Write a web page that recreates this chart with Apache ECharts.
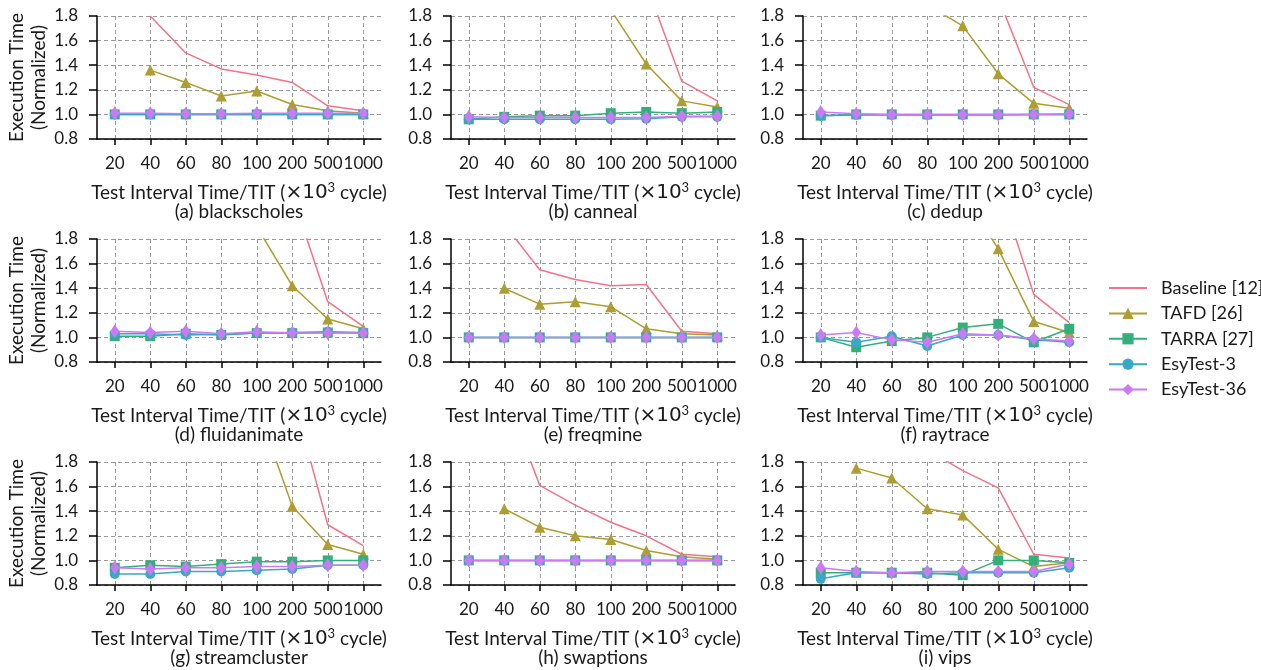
<!DOCTYPE html>
<html><head><meta charset="utf-8">
<script src="https://cdn.jsdelivr.net/npm/echarts@6/dist/echarts.min.js"></script>
<style>html,body{margin:0;padding:0;background:#fff}#c{width:1261px;height:670px}</style>
</head><body><div id="c"></div>
<script>
const categories = ['20','40','60','80','100','200','500','1000'];
const panelTitles = ['(a) blackscholes','(b) canneal','(c) dedup','(d) fluidanimate','(e) freqmine','(f) raytrace','(g) streamcluster','(h) swaptions','(i) vips'];
const seriesNames = ['Baseline [12]','TAFD [26]','TARRA [27]','EsyTest-3','EsyTest-36'];
const yTicks = [0.8, 1.0, 1.2, 1.4, 1.6, 1.8];

const baseline = [
  [null, 1.80, 1.50, 1.37, 1.32, 1.26, 1.07, 1.03],
  [null, null, null, null, null, 2.06, 1.27, 1.11],
  [null, null, null, null, null, 1.95, 1.22, 1.08],
  [null, null, null, null, null, 2.16, 1.29, 1.09],
  [null, 1.92, 1.55, 1.47, 1.42, 1.43, 1.05, 1.03],
  [null, null, null, null, null, 2.25, 1.35, 1.12],
  [null, null, null, null, null, 2.36, 1.29, 1.12],
  [null, 2.37, 1.61, 1.45, 1.31, 1.20, 1.05, 1.03],
  [null, null, null, 1.90, 1.73, 1.59, 1.05, 1.02]
];
const tafd = [
  [null, 1.36, 1.26, 1.15, 1.19, 1.08, 1.03, 1.01],
  [null, null, null, null, 1.85, 1.41, 1.11, 1.06],
  [null, null, null, 1.89, 1.72, 1.33, 1.09, 1.05],
  [null, null, null, null, 1.90, 1.42, 1.15, 1.07],
  [null, 1.40, 1.27, 1.29, 1.25, 1.07, 1.03, 1.02],
  [null, null, null, null, 2.17, 1.72, 1.13, 1.04],
  [null, null, null, null, 2.26, 1.44, 1.13, 1.05],
  [null, 1.42, 1.27, 1.20, 1.17, 1.08, 1.03, 1.01],
  [null, 1.75, 1.67, 1.42, 1.37, 1.09, 0.95, 0.98]
];
const tarra = [
  [1.00, 1.00, 1.00, 1.00, 1.00, 1.00, 1.00, 1.00],
  [0.96, 0.98, 0.99, 0.99, 1.01, 1.02, 1.01, 1.02],
  [0.99, 1.00, 1.00, 1.00, 1.00, 1.00, 1.00, 1.00],
  [1.01, 1.01, 1.03, 1.02, 1.035, 1.035, 1.04, 1.035],
  [1.00, 1.00, 1.00, 1.00, 1.00, 1.00, 1.00, 1.00],
  [1.00, 0.92, 0.97, 1.00, 1.08, 1.11, 0.96, 1.07],
  [0.94, 0.96, 0.95, 0.97, 0.99, 0.99, 1.00, 1.00],
  [1.00, 1.00, 1.00, 1.00, 1.00, 1.00, 1.00, 1.00],
  [0.90, 0.90, 0.90, 0.90, 0.88, 1.00, 1.00, 0.98]
];
const esy3 = [
  [1.00, 1.00, 1.00, 1.00, 1.00, 1.00, 1.00, 1.00],
  [0.96, 0.96, 0.96, 0.96, 0.96, 0.965, 0.98, 0.98],
  [0.99, 0.995, 0.995, 0.995, 0.995, 0.995, 1.00, 1.00],
  [1.03, 1.03, 1.02, 1.025, 1.035, 1.04, 1.045, 1.04],
  [1.00, 1.00, 1.00, 1.00, 1.00, 1.00, 1.00, 1.00],
  [1.00, 0.96, 1.01, 0.93, 1.02, 1.02, 0.98, 0.96],
  [0.89, 0.89, 0.91, 0.91, 0.92, 0.93, 0.96, 0.96],
  [1.00, 1.00, 1.00, 1.00, 1.00, 1.00, 1.00, 1.00],
  [0.85, 0.90, 0.90, 0.89, 0.90, 0.90, 0.90, 0.94]
];
const esy36 = [
  [1.01, 1.01, 1.005, 1.005, 1.01, 1.01, 1.01, 1.01],
  [0.98, 0.975, 0.975, 0.975, 0.975, 0.975, 0.985, 0.985],
  [1.02, 1.005, 1.00, 1.00, 1.00, 1.00, 1.00, 1.005],
  [1.05, 1.04, 1.05, 1.03, 1.045, 1.035, 1.035, 1.035],
  [1.00, 1.00, 1.00, 1.00, 1.00, 1.00, 1.00, 1.00],
  [1.02, 1.04, 0.98, 0.96, 1.03, 1.02, 0.99, 0.97],
  [0.94, 0.93, 0.94, 0.94, 0.95, 0.95, 0.96, 0.96],
  [1.00, 1.00, 1.00, 1.00, 1.00, 1.00, 1.00, 1.00],
  [0.94, 0.91, 0.90, 0.91, 0.91, 0.91, 0.91, 0.97]
];

const allData = [baseline, tafd, tarra, esy3, esy36];
const colors = ['#f77189', '#ae9d31', '#33b07a', '#38a9c5', '#cc7af4'];
const symbols = ['none', 'triangle', 'rect', 'circle', 'diamond'];
const symbolSizes = [0, 11, 10, 10, [9, 14]];

const FONT = 'Lato';
const TXT = '#1a1a1a';
const colLeft = [97, 451, 803];
const rowTop = [16, 239, 462];
const W = 284, H = 123;

const grids = [], xAxes = [], yAxes = [], series = [], graphics = [];
for (let p = 0; p < 9; p++) {
  const r = Math.floor(p / 3), c = p % 3;
  grids.push({ left: colLeft[c], top: rowTop[r], width: W, height: H, containLabel: false });
  xAxes.push({
    type: 'category', gridIndex: p, data: categories, boundaryGap: true,
    name: '{n|Test Interval Time/TIT (}{m|×10}{s|3}{n| cycle)}',
    nameLocation: 'middle', nameGap: 42,
    nameTextStyle: { rich: {
      n: { fontFamily: FONT, fontSize: 19, color: TXT },
      m: { fontFamily: 'DejaVu Sans', fontSize: 20, color: TXT },
      s: { fontFamily: FONT, fontSize: 13, color: TXT, verticalAlign: 'top', padding: [0, 0, 10, 0] }
    } },
    axisLine: { lineStyle: { color: '#000', width: 1.5 } },
    axisTick: { show: true, alignWithLabel: true, length: 6, lineStyle: { color: '#000', width: 1.5 } },
    axisLabel: { margin: 16, fontFamily: FONT, fontSize: 17, color: TXT, interval: 0 },
    splitLine: { show: true, alignWithLabel: true, lineStyle: { color: '#999', type: [4, 3], width: 1 } }
  });
  yAxes.push({
    type: 'value', gridIndex: p, min: yTicks[0], max: yTicks[yTicks.length - 1], interval: 0.2,
    name: c === 0 ? 'Execution Time\n(Normalized)' : '',
    nameLocation: 'middle', nameGap: 46,
    nameTextStyle: { fontFamily: FONT, fontSize: 19, color: TXT, lineHeight: 22 },
    axisLine: { show: true, lineStyle: { color: '#000', width: 1.5 } },
    axisTick: { show: true, length: 8, lineStyle: { color: '#000', width: 1.5 } },
    axisLabel: { margin: 19, fontFamily: FONT, fontSize: 17, color: TXT, formatter: v => v.toFixed(1) },
    splitLine: { show: true, lineStyle: { color: '#999', type: [4, 3], width: 1 } }
  });
  for (let s = 0; s < 5; s++) {
    series.push({
      type: 'line', name: seriesNames[s], xAxisIndex: p, yAxisIndex: p,
      data: allData[s][p], clip: true, z: 2 + s,
      symbol: symbols[s], symbolSize: symbolSizes[s], showSymbol: s !== 0,
      lineStyle: { color: colors[s], width: 1.5 },
      itemStyle: { color: colors[s] },
      emphasis: { disabled: true }, animation: false
    });
  }
  graphics.push({
    type: 'text', x: colLeft[c] + W / 2, y: rowTop[r] + H + 73,
    style: { text: panelTitles[p], fontFamily: FONT, fontSize: 19, fill: TXT, textAlign: 'center', textVerticalAlign: 'middle' }
  });
}

const legendData = seriesNames.map((n, i) => i === 0 ? { name: n, itemStyle: { opacity: 0 } } : { name: n });

const chart = echarts.init(document.getElementById('c'), null, { renderer: 'canvas' });
chart.setOption({
  animation: false,
  backgroundColor: '#fff',
  grid: grids, xAxis: xAxes, yAxis: yAxes, series: series,
  graphic: graphics,
  legend: {
    orient: 'vertical', left: 1108, top: 279, itemWidth: 38, itemHeight: 14, itemGap: 7.4,
    padding: 0,
    data: legendData,
    textStyle: { fontFamily: FONT, fontSize: 18, lineHeight: 18, color: TXT, padding: [0, 0, 0, 9] }
  }
});
</script></body></html>
